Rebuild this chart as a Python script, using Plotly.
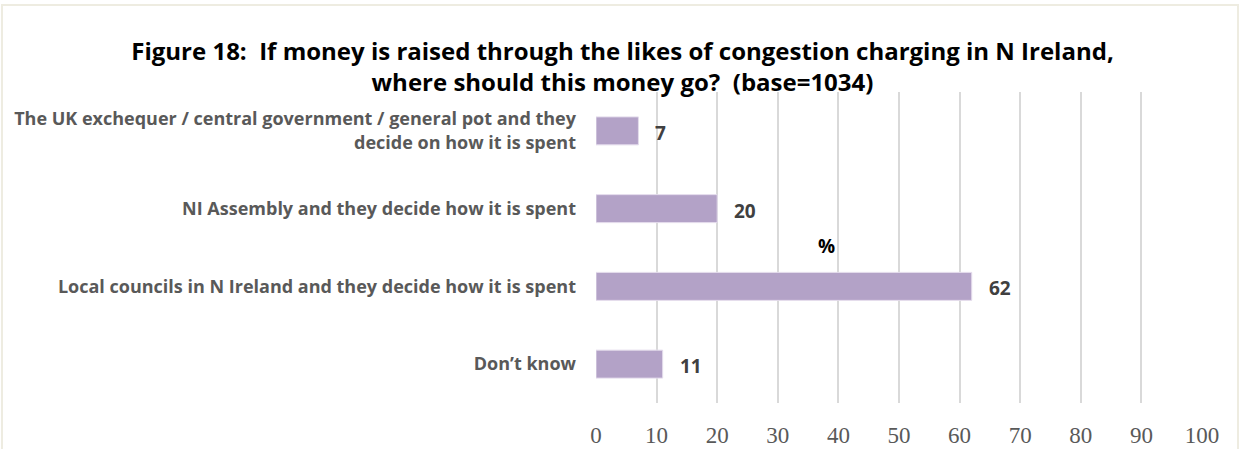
import plotly.graph_objects as go

categories = [
    "The UK exchequer / central government / general pot and they<br>decide on how it is spent",
    "NI Assembly and they decide how it is spent",
    "Local councils in N Ireland and they decide how it is spent",
    "Don’t know",
]
values = [7, 20, 62, 11]
x_ticks = [0, 10, 20, 30, 40, 50, 60, 70, 80, 90, 100]

BAR = "#B3A2C7"
GRID = "#D9D9D9"
LABEL = "#595959"
SANS = "Open Sans, Lato, sans-serif"

L, R, T, B = 596, 43, 92, 46
W, H = 1245, 449
PW, PH = W - L - R, H - T - B

fig = go.Figure()
fig.add_trace(go.Bar(
    y=categories, x=values, orientation="h",
    marker=dict(color=BAR, line=dict(color="#E4DCEC", width=1)),
    hoverinfo="x+y",
))

annotations = []
for c, v in zip(categories, values):
    annotations.append(dict(
        x=v, y=c, xref="x", yref="y", text=str(v), showarrow=False,
        xanchor="left", yanchor="middle", xshift=15, yshift=-2,
        font=dict(family=SANS, size=19, color="#404040", weight="bold"),
    ))
annotations.append(dict(
    x=38, y=(H - B - 246) / PH, xref="x", yref="paper", yanchor="middle",
    text="%", showarrow=False,
    font=dict(family=SANS, size=19, color="#000000", weight="bold"),
))

fig.update_layout(
    width=W, height=H,
    paper_bgcolor="white", plot_bgcolor="white",
    margin=dict(l=L, r=R, t=T, b=B, autoexpand=False),
    bargap=0.64,
    showlegend=False,
    title=dict(
        text="Figure 18:  If money is raised through the likes of congestion charging in N Ireland,<br>where should this money go?  (base=1034)",
        x=0.5, xref="container", xanchor="center",
        y=1 - 60 / H, yref="container", yanchor="middle",
        font=dict(family=SANS, size=24, color="#000000", weight="bold"),
    ),
    xaxis=dict(
        range=[0, 100], tickvals=x_ticks, ticktext=[str(t) for t in x_ticks],
        showgrid=True, gridcolor=GRID, gridwidth=1.5, zeroline=False,
        showline=False, ticks="", ticklabelstandoff=16, automargin=False,
        tickfont=dict(family="Liberation Serif, DejaVu Serif, serif", size=23, color=LABEL),
        fixedrange=True,
    ),
    yaxis=dict(
        autorange="reversed", showgrid=False, zeroline=False, showline=False,
        ticks="", ticklabelstandoff=19, automargin=False,
        tickfont=dict(family=SANS, size=18, color=LABEL, weight="bold"),
    ),
    annotations=annotations,
    shapes=[dict(
        type="rect", xref="paper", yref="paper",
        x0=(2 - L) / PW, x1=(1238 - L) / PW,
        y0=-0.5, y1=(H - B - 5) / PH,
        line=dict(color="#EEECE1", width=2), fillcolor="rgba(0,0,0,0)", layer="below",
    )],
)

fig.write_html(
    "out.html",
    config={"displayModeBar": False},
    post_script="document.body.style.margin='0';document.body.style.overflow='hidden';",
)
